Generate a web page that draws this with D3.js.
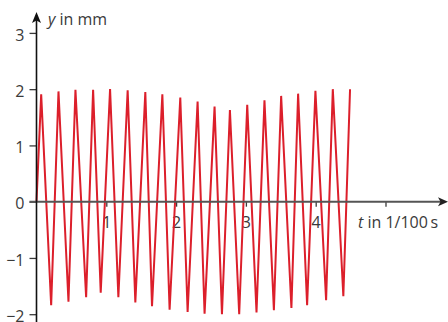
<!DOCTYPE html>
<html>
<head>
<meta charset="utf-8">
<script src="https://cdnjs.cloudflare.com/ajax/libs/d3/7.8.5/d3.min.js"></script>
<style>
  html, body { margin: 0; padding: 0; background: #fff; }
  svg { display: block; font-family: "Open Sans", sans-serif; }
</style>
</head>
<body>
<svg id="chart" width="448" height="322"></svg>
<script>
// zigzag signal (t in 1/100 s, y in mm)
var times = [0, 0.067, 0.210, 0.315, 0.458, 0.558, 0.711, 0.811, 0.920, 1.054, 1.173,
  1.306, 1.416, 1.559, 1.655, 1.803, 1.907, 2.060, 2.165, 2.308, 2.408,
  2.551, 2.657, 2.771, 2.904, 3.019, 3.152, 3.266, 3.401, 3.505, 3.652,
  3.748, 3.877, 3.996, 4.149, 4.245, 4.396, 4.492];
var displacements = [0, 1.91, -1.84, 1.96, -1.78, 1.99, -1.70, 1.99, -1.62, 2.00, -1.70,
  1.98, -1.79, 1.95, -1.86, 1.91, -1.92, 1.85, -1.96, 1.78, -1.99,
  1.69, -2.00, 1.63, -2.00, 1.72, -1.97, 1.80, -1.93, 1.88, -1.89,
  1.92, -1.84, 1.97, -1.75, 2.00, -1.68, 2.00];
var xTicks = [1, 2, 3, 4, 5];
var yTicks = [-2, -1, 0, 1, 2, 3];

var svg = d3.select('#chart');
var x = d3.scaleLinear().domain([0, 5]).range([36.5, 385.5]);
var y = d3.scaleLinear().domain([-2, 3]).range([314.2, 32.9]);
var points = times.map(function (t, i) { return [t, displacements[i]]; });

var axisColor = '#3a3a3a';
var fontSize = '16px';

// y axis ticks + labels
var yAxis = svg.append('g')
  .attr('transform', 'translate(' + x(0) + ',0)')
  .call(d3.axisLeft(y).tickValues(yTicks).tickSize(7).tickPadding(5)
    .tickFormat(d3.format('d')));
yAxis.select('.domain').remove();
yAxis.selectAll('line').attr('stroke', axisColor).attr('stroke-width', 1.3);
yAxis.selectAll('text').attr('dy', '0.45em').attr('fill', axisColor)
  .style('font-size', fontSize).style('font-family', '"Open Sans", sans-serif');

// x axis ticks + labels
var xAxis = svg.append('g')
  .attr('transform', 'translate(0,' + y(0) + ')')
  .call(d3.axisBottom(x).tickValues(xTicks).tickSize(5).tickPadding(10)
    .tickFormat(function (d) { return d === 5 ? '' : d; }));
xAxis.select('.domain').remove();
xAxis.selectAll('line').attr('stroke', axisColor).attr('stroke-width', 1.3);
xAxis.selectAll('text').attr('fill', axisColor)
  .style('font-size', fontSize).style('font-family', '"Open Sans", sans-serif');

// signal
svg.append('path')
  .datum(points)
  .attr('fill', 'none')
  .attr('stroke', '#dc1f2b')
  .attr('stroke-width', 2)
  .attr('d', d3.line().x(function (d) { return x(d[0]); }).y(function (d) { return y(d[1]); }));

// axis lines with arrow heads
svg.append('line')
  .attr('x1', 29.5).attr('x2', 441)
  .attr('y1', y(0)).attr('y2', y(0))
  .attr('stroke', '#555').attr('stroke-width', 2);
svg.append('path')
  .attr('d', 'M448,' + y(0) + 'L438,' + (y(0) - 4.5) + 'L440.5,' + y(0) + 'L438,' + (y(0) + 4.5) + 'Z')
  .attr('fill', '#222');

svg.append('line')
  .attr('x1', x(0)).attr('x2', x(0))
  .attr('y1', 322).attr('y2', 20)
  .attr('stroke', '#111').attr('stroke-width', 1.6);
svg.append('path')
  .attr('d', 'M' + x(0) + ',12L' + (x(0) + 4.5) + ',23L' + x(0) + ',20.5L' + (x(0) - 4.5) + ',23Z')
  .attr('fill', '#111');

// axis titles
var yTitle = svg.append('text')
  .attr('x', 48).attr('y', 25)
  .attr('fill', axisColor)
  .style('font-size', fontSize);
yTitle.append('tspan').style('font-style', 'italic').text('y');
yTitle.append('tspan').text(' in mm');

var xTitle = svg.append('text')
  .attr('x', 358).attr('y', 228)
  .attr('fill', axisColor)
  .style('font-size', fontSize);
xTitle.append('tspan').style('font-style', 'italic').text('t');
xTitle.append('tspan').text(' in 1/100\u2009s');
</script>
</body>
</html>
